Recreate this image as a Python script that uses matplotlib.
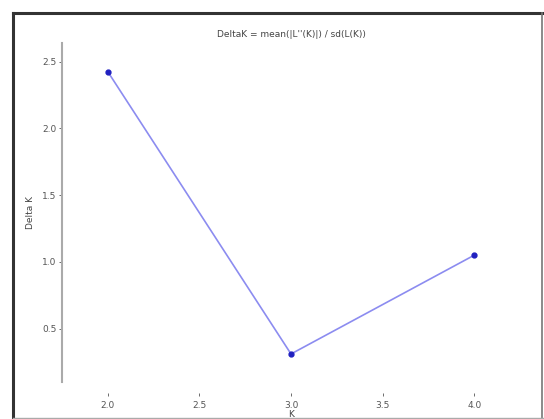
import matplotlib
matplotlib.use('Agg')
import matplotlib.pyplot as plt
from matplotlib.lines import Line2D

# Evanno DeltaK values
k_values = [2.0, 3.0, 4.0]
delta_k = [2.425, 0.31, 1.05]
x_ticks = [2.0, 2.5, 3.0, 3.5, 4.0]
y_ticks = [0.5, 1.0, 1.5, 2.0, 2.5]

W, H = 544, 419
fig = plt.figure(figsize=(W / 100, H / 100), dpi=100)

# frame around the figure (screenshot border)
def px_line(x0, y0, x1, y1, color, lw):
    fig.add_artist(Line2D([x0 / W, x1 / W], [1 - y0 / H, 1 - y1 / H],
                          transform=fig.transFigure, color=color, lw=lw))

px_line(13, 13, 542, 13, '#333333', 2.2)
px_line(13, 13, 13, 419, '#333333', 2.2)
px_line(542, 13, 542, 419, '#777777', 1.2)
px_line(13, 418, 544, 418, '#aaaaaa', 1.0)

ax = fig.add_axes([62 / W, 1 - 382 / H, 458 / W, 339 / H])
ax.plot(k_values, delta_k, color='#8c8cf0', lw=1.2, marker='o',
        markersize=3.5, markerfacecolor='#2020c0', markeredgecolor='#2020c0')

ax.set_xlim(1.75, 4.25)
ax.set_ylim(0.1, 2.64)
ax.set_xticks(x_ticks)
ax.set_yticks(y_ticks)
ax.set_xticklabels(['%.1f' % v for v in x_ticks])
ax.set_yticklabels(['%.1f' % v for v in y_ticks])

for s in ['top', 'right']:
    ax.spines[s].set_visible(False)
ax.spines['left'].set_color('#aaaaaa')
ax.spines['left'].set_linewidth(1.5)
ax.spines['bottom'].set_position(('outward', 8))
ax.spines['bottom'].set_color('none')

ax.tick_params(axis='both', labelsize=6.5, colors='#555555', length=2, width=0.6)
ax.tick_params(axis='x', pad=4)
ax.tick_params(axis='y', pad=2)

ax.set_title("DeltaK = mean(|L''(K)|) / sd(L(K))", fontsize=6.5, color='#444444', pad=4)
ax.set_xlabel('K', fontsize=6.5, color='#444444', labelpad=0)
ax.set_ylabel('Delta K', fontsize=6.5, color='#444444', labelpad=5)

fig.savefig('out.png', dpi=100)
